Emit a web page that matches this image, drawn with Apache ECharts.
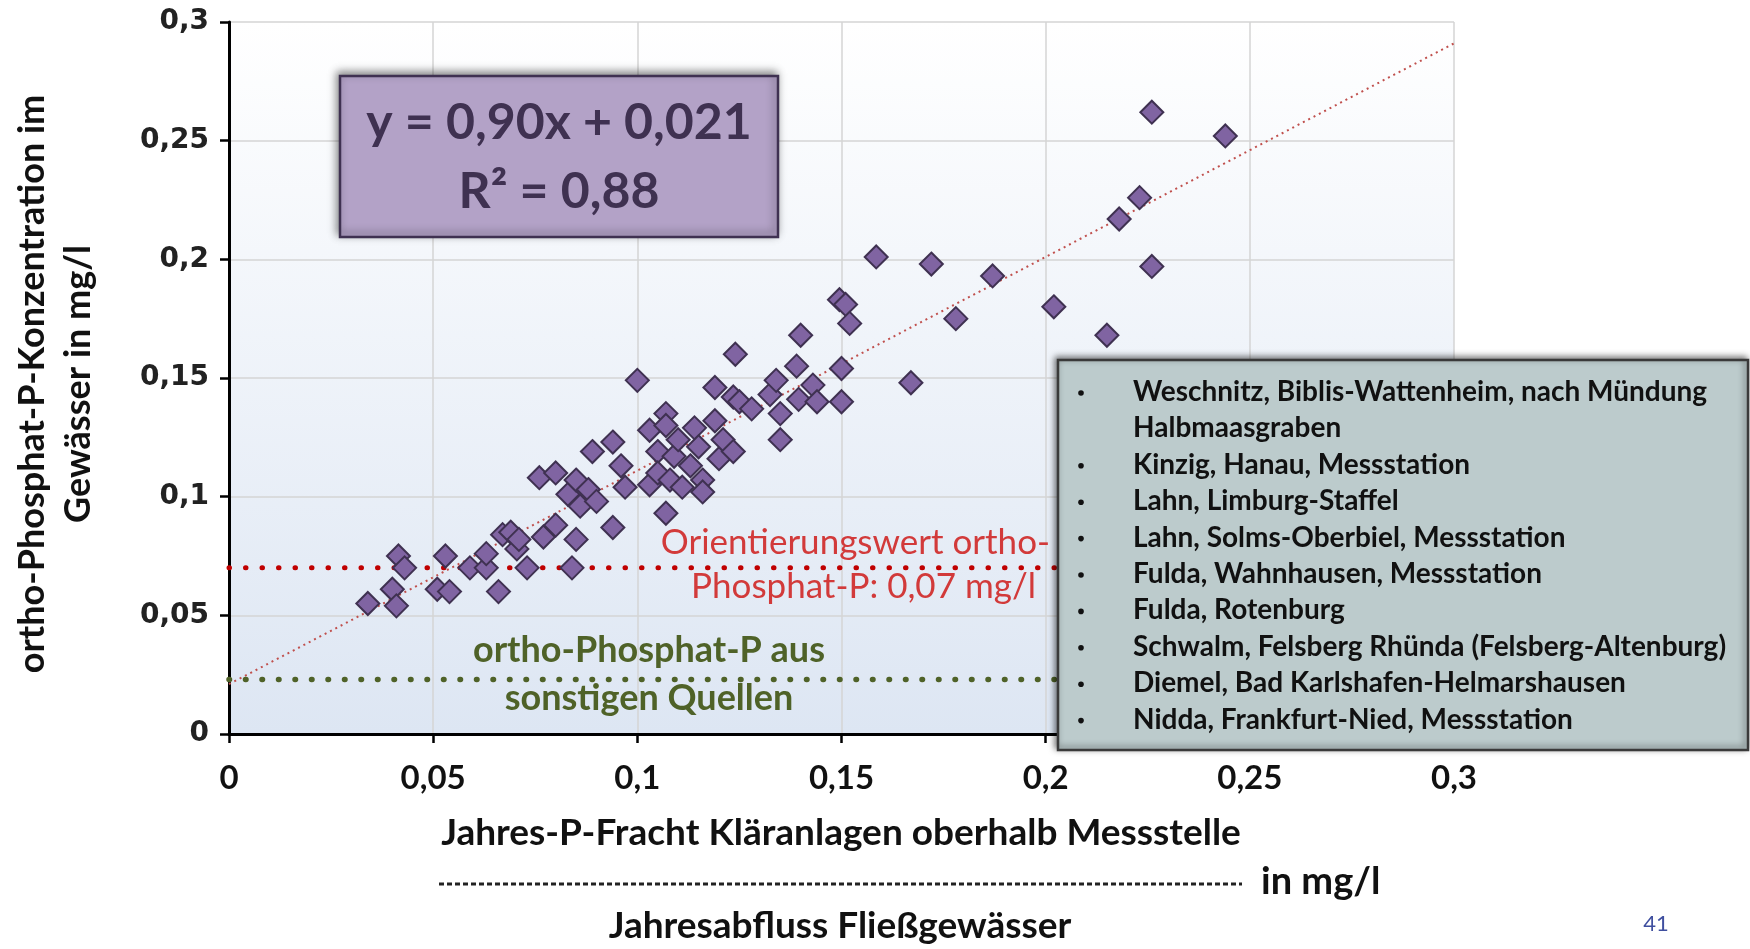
<!DOCTYPE html>
<html><head><meta charset="utf-8">
<script src="https://cdn.jsdelivr.net/npm/echarts@6/dist/echarts.min.js"></script>
<style>html,body{margin:0;padding:0;background:#fff}#c{width:1750px;height:949px}</style>
</head><body><div id="c"></div>
<script>
// ---- data ----
const xTickValues = [0, 0.05, 0.1, 0.15, 0.2, 0.25, 0.3];
const yTickValues = [0, 0.05, 0.1, 0.15, 0.2, 0.25, 0.3];
const pointsX = [0.034,0.040,0.041,0.0415,0.043,0.051,0.053,0.054,0.059,0.063,0.063,0.066,0.067,0.069,0.0705,0.071,0.073,0.077,0.076,0.080,0.080,0.084,0.085,0.083,0.085,0.086,0.088,0.089,0.090,0.094,0.094,0.096,0.097,0.100,0.103,0.103,0.105,0.105,0.107,0.107,0.107,0.108,0.109,0.110,0.111,0.113,0.114,0.115,0.116,0.116,0.119,0.119,0.120,0.121,0.1235,0.1235,0.124,0.125,0.128,0.1325,0.134,0.135,0.135,0.139,0.140,0.1395,0.143,0.144,0.1495,0.151,0.150,0.150,0.152,0.1585,0.167,0.172,0.178,0.187,0.202,0.215,0.218,0.223,0.226,0.226,0.244];
const pointsY = [0.055,0.061,0.054,0.075,0.070,0.061,0.075,0.060,0.070,0.070,0.076,0.060,0.084,0.085,0.078,0.082,0.070,0.083,0.108,0.110,0.088,0.070,0.082,0.101,0.107,0.096,0.103,0.119,0.098,0.087,0.123,0.113,0.104,0.149,0.105,0.128,0.119,0.110,0.135,0.093,0.130,0.107,0.117,0.124,0.104,0.113,0.129,0.121,0.107,0.102,0.146,0.132,0.116,0.124,0.119,0.142,0.160,0.140,0.137,0.143,0.149,0.135,0.124,0.155,0.168,0.141,0.147,0.140,0.183,0.181,0.154,0.140,0.173,0.201,0.148,0.198,0.175,0.193,0.180,0.168,0.217,0.226,0.262,0.197,0.252];
const trendX = [0, 0.3];
const trendY = [0.021, 0.291];
const orientValue = 0.07;
const backgroundValue = 0.023;
const equationLines = ['y = 0,90x + 0,021', 'R² = 0,88'];
const orientLabel = ['Orientierungswert ortho-', 'Phosphat-P: 0,07 mg/l'];
const backgroundLabel = ['ortho-Phosphat-P aus', 'sonstigen Quellen'];
const yAxisTitle = ['ortho-Phosphat-P-Konzentration im', 'Gewässer in mg/l'];
const xAxisTitleTop = 'Jahres-P-Fracht Kläranlagen oberhalb Messstelle';
const xAxisTitleBottom = 'Jahresabfluss Fließgewässer';
const xAxisUnit = 'in mg/l';
const pageNumber = '41';
const legendItems = [
  'Weschnitz, Biblis-Wattenheim, nach Mündung\nHalbmaasgraben',
  'Kinzig, Hanau, Messstation',
  'Lahn, Limburg-Staffel',
  'Lahn, Solms-Oberbiel, Messstation',
  'Fulda, Wahnhausen, Messstation',
  'Fulda, Rotenburg',
  'Schwalm, Felsberg Rhünda (Felsberg-Altenburg)',
  'Diemel, Bad Karlshafen-Helmarshausen',
  'Nidda, Frankfurt-Nied, Messstation'
];

// ---- build ----
const fmt = v => String(Number(v.toFixed(2))).replace('.', ',');
const scatterData = pointsX.map((x, i) => [x, pointsY[i]]);
const trendData = trendX.map((x, i) => [x, trendY[i]]);

const FONT = 'Lato, "Open Sans", sans-serif';
const graphics = [];

// equation box
graphics.push({
  type: 'rect', z: 100, shape: { x: 340, y: 76, width: 438, height: 161 },
  style: { fill: '#b3a2c7', stroke: '#3f3151', lineWidth: 2.5, shadowBlur: 8, shadowColor: 'rgba(0,0,0,0.45)', shadowOffsetX: -2, shadowOffsetY: -3 }
});
equationLines.forEach((t, i) => graphics.push({
  type: 'text', z: 101, x: 559, y: 123 + i * 69,
  style: { text: t, fill: '#3f3151', font: 'bold 50px ' + FONT, textAlign: 'center', textVerticalAlign: 'middle' }
}));

// legend box
graphics.push({
  type: 'rect', z: 100, shape: { x: 1058, y: 360, width: 690, height: 390 },
  style: { fill: '#bccbcc', stroke: '#3a3a3a', lineWidth: 2.5, shadowBlur: 6, shadowColor: 'rgba(0,0,0,0.5)', shadowOffsetX: -2, shadowOffsetY: -2 }
});
let row = 0;
legendItems.forEach(item => {
  item.split('\n').forEach((line, j) => {
    const yy = 392 + row * 36.4;
    if (j === 0) graphics.push({ type: 'circle', z: 101, shape: { cx: 1081, cy: yy + 1, r: 2.8 }, style: { fill: '#111' } });
    graphics.push({ type: 'text', z: 101, x: 1133, y: yy,
      style: { text: line, fill: '#111', font: 'bold 28px ' + FONT, textAlign: 'left', textVerticalAlign: 'middle' } });
    row++;
  });
});

// annotation texts
orientLabel.forEach((t, i) => graphics.push({
  type: 'text', z: 50, x: i === 0 ? 1050 : 1036, y: 543 + i * 44,
  style: { text: t, fill: '#d23a3a', font: '35px ' + FONT, textAlign: 'right', textVerticalAlign: 'middle' }
}));
backgroundLabel.forEach((t, i) => graphics.push({
  type: 'text', z: 50, x: 649, y: 650 + i * 48,
  style: { text: t, fill: '#4f6228', font: 'bold 36px ' + FONT, textAlign: 'center', textVerticalAlign: 'middle' }
}));

// axis titles
graphics.push({
  type: 'text', x: 55, y: 384, rotation: Math.PI / 2,
  style: { text: yAxisTitle.join('\n'), fill: '#111', font: 'bold 36px ' + FONT, textAlign: 'center', textVerticalAlign: 'middle', lineHeight: 46 }
});
graphics.push({ type: 'text', x: 841, y: 833,
  style: { text: xAxisTitleTop, fill: '#111', font: 'bold 37px ' + FONT, textAlign: 'center', textVerticalAlign: 'middle' } });
graphics.push({ type: 'line', shape: { x1: 439, y1: 884, x2: 1242, y2: 884 },
  style: { stroke: '#222', lineWidth: 3, lineDash: [5, 3] } });
graphics.push({ type: 'text', x: 1261, y: 882,
  style: { text: xAxisUnit, fill: '#111', font: 'bold 38px ' + FONT, textAlign: 'left', textVerticalAlign: 'middle' } });
graphics.push({ type: 'text', x: 840, y: 926,
  style: { text: xAxisTitleBottom, fill: '#111', font: 'bold 37px ' + FONT, textAlign: 'center', textVerticalAlign: 'middle' } });
graphics.push({ type: 'text', x: 1656, y: 924,
  style: { text: pageNumber, fill: '#3f4f9f', font: '22px ' + FONT, textAlign: 'center', textVerticalAlign: 'middle' } });

const axisCommon = {
  type: 'value', min: 0, max: 0.3, interval: 0.05,
  axisLine: { show: true, onZero: false, lineStyle: { color: '#000', width: 3 } },
  axisTick: { show: true, inside: false, length: 9, lineStyle: { color: '#000', width: 2.5 } },
  splitLine: { show: true, lineStyle: { color: '#d4d4d4', width: 1.5 } },
};

const chart = echarts.init(document.getElementById('c'), null, { renderer: 'canvas' });
chart.setOption({
  animation: false,
  backgroundColor: '#ffffff',
  grid: {
    left: 229, right: 296, top: 22, bottom: 215, containLabel: false, outerBoundsMode: 'none',
    show: true, borderWidth: 0,
    backgroundColor: { type: 'linear', x: 0, y: 0, x2: 0, y2: 1,
      colorStops: [{ offset: 0, color: '#ffffff' }, { offset: 1, color: '#dde6f3' }] }
  },
  xAxis: Object.assign({}, axisCommon, {
    axisLabel: { formatter: fmt, margin: 28, color: '#111', fontFamily: FONT, fontWeight: 'bold', fontSize: 33 }
  }),
  yAxis: Object.assign({}, axisCommon, {
    axisLabel: { formatter: fmt, margin: 20, color: '#222', fontFamily: '"DejaVu Sans", sans-serif', fontWeight: 'bold', fontSize: 28 }
  }),
  series: [
    { type: 'line', data: trendData, symbol: 'none', z: 3,
      lineStyle: { color: '#c0504d', width: 2, type: [2, 4] } },
    { type: 'line', data: [[0, orientValue], [0.3, orientValue]], symbol: 'none', z: 3,
      lineStyle: { color: '#c00000', width: 5, type: [0.5, 16], cap: 'round' } },
    { type: 'line', data: [[0, backgroundValue], [0.3, backgroundValue]], symbol: 'none', z: 3,
      lineStyle: { color: '#4f6228', width: 5.5, type: [0.5, 16], cap: 'round' } },
    { type: 'scatter', data: scatterData, symbol: 'diamond', symbolSize: 23, z: 4,
      itemStyle: { color: '#8064a2', borderColor: '#3f3151', borderWidth: 2, opacity: 1 } }
  ],
  graphic: graphics
});
</script>
</body></html>
